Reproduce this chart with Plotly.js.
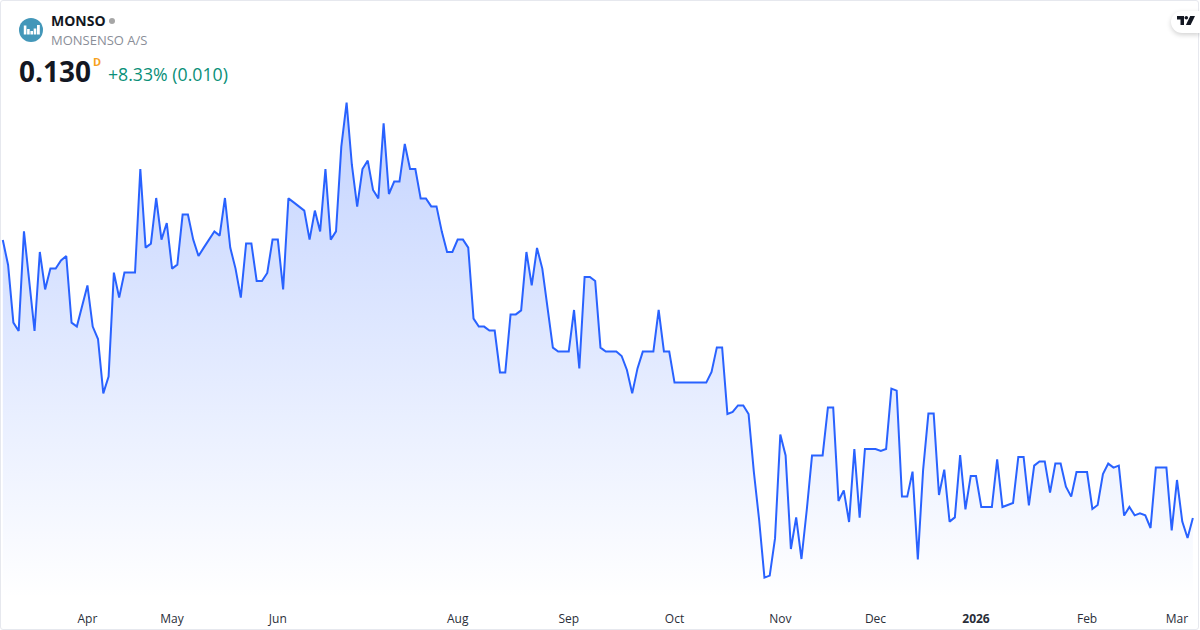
<!DOCTYPE html>
<html>
<head>
<meta charset="utf-8">
<script src="https://cdn.plot.ly/plotly-3.0.1.min.js"></script>
<style>
html,body{margin:0;padding:0;background:#fff;width:1200px;height:630px;overflow:hidden}
#chart{position:absolute;left:0;top:0;width:1200px;height:630px}
#frame{position:absolute;left:0;top:0;width:1197px;height:628px;border:1px solid #e6e8ee;border-radius:3px;pointer-events:none}
#pill{position:absolute;left:1171px;top:11px;width:29px;height:22px;background:#fff;border-radius:11px 0 0 11px;box-shadow:0 2px 5px rgba(0,0,0,.18)}
#pill svg{position:absolute;left:6px;top:5px}
</style>
</head>
<body>
<div id="chart"></div>
<div id="frame"></div>
<div id="pill"><svg width="18" height="10" viewBox="0 0 18 10"><path d="M0 0H7V9H3.5V3.5H0Z" fill="#131722"/><circle cx="9.3" cy="1.8" r="1.8" fill="#131722"/><path d="M13.2 0H18L13.6 9H8.9Z" fill="#131722"/></svg></div>
<script>
var closes = [
.2690,.2565,.2277,.2235,.2733,.2473,.2235,.2630,.2443,.2547,.2547,.2588,.2610,.2277,.2257,.2360,.2463,.2257,.2195,.1923,
.2007,.2527,.2402,.2527,.2527,.2527,.3045,.2652,.2672,.2900,.2692,.2775,.2547,.2567,.2817,.2817,.2692,.2610,.2652,.2693,
.2733,.2712,.2900,.2652,.2547,.2402,.2672,.2672,.2485,.2485,.2525,.2692,.2692,.2443,.2898,.2878,.2857,
.2837,.2692,.2837,.2733,.3045,.2692,.2733,.3157,.3377,.3065,.2857,.3045,.3087,.2940,.2898,.3273,.2920,.2982,.2982,
.3170,.3045,.3045,.2898,.2898,.2858,.2858,.2732,.2630,.2630,.2692,.2692,.2652,.2297,.2257,.2257,.2237,.2237,.2028,.2028,
.2318,.2318,.2338,.2630,.2463,.2650,.2547,.2338,.2152,.2132,.2132,.2132,.2340,.2048,.2505,.2505,.2485,.2152,
.2132,.2132,.2132,.2110,.2040,.1923,.2048,.2132,.2132,.2132,.2340,.2132,.2132,.1977,.1977,.1977,.1977,.1977,.1977,.1977,
.2030,.2153,.2153,.1820,.1830,.1863,.1863,.1820,.1530,.1290,.1002,.1012,.1198,.1717,.1613,.1145,.1303,.1095,.1340,.1613,
.1613,.1613,.1853,.1853,.1385,.1438,.1280,.1645,.1302,.1645,.1645,.1645,.1635,.1645,.1947,.1937,
.1407,.1407,.1532,.1093,.1540,.1822,.1822,.1415,.1542,.1282,.1303,.1615,.1343,.1510,.1510,.1355,.1355,.1355,.1593,.1355,
.1365,.1375,.1605,.1605,.1363,.1562,.1583,.1583,.1427,.1572,.1572,.1457,.1407,.1530,.1530,.1530,.1345,.1365,.1520,.1572,
.1552,.1562,.1312,.1355,.1313,.1323,.1313,.1250,.1552,.1552,.1552,.1238,.1490,.1282,.1200,.1300
];
var sessions = closes.map(function(_, i){ return i; });
var tickSessions = [16,32,52,86,107,127,147,165,184,205,222];
var tickLabels = ['Apr','May','Jun','Aug','Sep','Oct','Nov','Dec','<b>2026</b>','Feb','Mar'];

var symbol = 'MONSO', company = 'MONSENSO A/S', lastPrice = '0.130', interval = 'D', change = '+8.33% (0.010)';
var W = 1200, PH = 602;
function px(x){ return x / W; }
function py(y){ return 1 - y / PH; }

var trace = {
  x: sessions, y: closes, type: 'scatter', mode: 'lines',
  line: {color: '#2962ff', width: 2, shape: 'linear'},
  fill: 'tozeroy',
  fillgradient: {type: 'vertical', start: 0.3377, stop: 0.09,
    colorscale: [[0, 'rgba(41,98,255,0.28)'], [1, 'rgba(41,98,255,0)']]},
  hoverinfo: 'skip'
};

function note(text, x, y, font, anchor){
  return {text: text, x: px(x), y: py(y), xref: 'paper', yref: 'paper', xanchor: anchor || 'left', yanchor: 'middle',
    showarrow: false, font: font, borderpad: 0, align: 'left'};
}
var F = '"Open Sans", "Noto Sans", sans-serif';

var logoBars = [[23.8,25.5,26.4],[27.1,29,29.7],[30.4,31,33],[33.7,28.5,36.3],[37,25,39.8]];
var shapes = [
  {type:'circle', xref:'paper', yref:'paper', x0:px(19), x1:px(43), y0:py(18), y1:py(42), fillcolor:'#4397b9', line:{width:0}},
  {type:'circle', xref:'paper', yref:'paper', x0:px(109), x1:px(115), y0:py(18), y1:py(24), fillcolor:'#a6a6a6', line:{width:0}}
].concat(logoBars.map(function(b){
  return {type:'rect', xref:'paper', yref:'paper', x0:px(b[0]), x1:px(b[2]), y0:py(b[1]), y1:py(34.5), fillcolor:'#fff', line:{width:0}};
}));

var layout = {
  width: 1200, height: 630,
  margin: {l:0, r:0, t:0, b:28, pad:0},
  paper_bgcolor: '#fff', plot_bgcolor: '#fff',
  showlegend: false, hovermode: false,
  xaxis: {range:[-0.53,226.35], showgrid:false, zeroline:false, showline:false, ticks:'',
    tickmode:'array', tickvals:tickSessions, ticktext:tickLabels, tickangle:0, ticklabelstandoff:8,
    tickfont:{family:F, size:12, color:'#2a2e39'}, fixedrange:true},
  yaxis: {range:[0.088,0.389], visible:false, fixedrange:true},
  shapes: shapes,
  annotations: [
    note(symbol, 50, 21, {family:F, size:14, color:'#131722', weight:700}),
    note(company, 50, 40, {family:F, size:13, color:'#8a8e98'}),
    note('<b>'+lastPrice+'</b>', 18, 71, {family:F, size:28, color:'#131722'}),
    note('<b>'+interval+'</b>', 92, 61, {family:F, size:11, color:'#f7a21b'}),
    note(change, 107, 74, {family:F, size:17.7, color:'#0a8f78'})
  ]
};
Plotly.newPlot('chart', [trace], layout, {displayModeBar:false, staticPlot:true});
</script>
</body>
</html>
